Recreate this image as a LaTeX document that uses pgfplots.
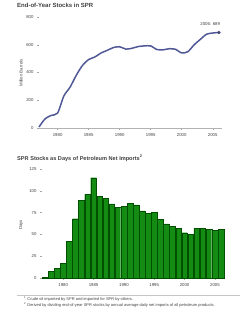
\documentclass[border=0pt]{standalone}
\usepackage{pgfplots}
\pgfplotsset{compat=1.18}
\usepackage{fontspec}
\setmainfont{Liberation Sans}
\definecolor{lineblue}{RGB}{80,88,150}
\definecolor{bargreen}{RGB}{20,140,20}
\definecolor{baredge}{RGB}{0,80,0}
\begin{document}
\begin{tikzpicture}
\useasboundingbox (0pt,0pt) rectangle (240pt,312pt);
\clip (0pt,0pt) rectangle (240pt,312pt);
\pgfplotsset{
  myaxis/.style={
    scale only axis,
    axis x line*=bottom, axis y line*=left,
    y axis line style={draw=none},
    x axis line style={gray!60, line width=0.6pt},
    tick align=outside,
    major tick length=2pt,
    tick style={gray!70, line width=0.4pt},
    tick label style={font=\fontsize{4.3}{5}\selectfont, text=black!75},
    /pgf/number format/assume math mode=true,
    /pgf/number format/1000 sep={},
    xtick={1980,1985,1990,1995,2000,2005},
    clip=false,
  }
}
% titles
\node[anchor=north west, inner sep=0, font=\bfseries\fontsize{6}{7}\selectfont, text=black!75] at (17pt,309pt) {End-of-Year Stocks in SPR};
\node[anchor=north west, inner sep=0, font=\bfseries\fontsize{5.6}{7}\selectfont, text=black!75] at (17pt,157pt) {SPR Stocks as Days of Petroleum Net Imports\textsuperscript{2}};
\node[rotate=90, inner sep=0, font=\fontsize{4.3}{5}\selectfont, text=black!75] at (21pt,239pt) {Million Barrels};
\node[rotate=90, inner sep=0, font=\fontsize{4.3}{5}\selectfont, text=black!75] at (21pt,87pt) {Days};

\begin{axis}[myaxis,
  at={(39pt,184pt)}, anchor=south west,
  width=183pt, height=111pt,
  xmin=1977, xmax=2006.5, ymin=0, ymax=800,
  ytick={0,200,400,600,800},
]
\addplot[lineblue, line width=1.5pt, smooth, tension=0.45] coordinates {
(1977,7.5) (1978,66.9) (1979,91.2) (1980,107.8) (1981,230.3) (1982,293.8)
(1983,379.1) (1984,450.5) (1985,493.3) (1986,511.6) (1987,540.6) (1988,559.5)
(1989,579.9) (1990,585.7) (1991,568.5) (1992,574.7) (1993,587.1) (1994,591.7)
(1995,591.6) (1996,565.8) (1997,563.4) (1998,571.4) (1999,567.2) (2000,540.7)
(2001,550.2) (2002,599.1) (2003,638.4) (2004,675.6) (2005,684.5) (2006,688.6)};
\addplot[only marks, mark=*, mark size=1.5pt, lineblue!80!black] coordinates {(2006,688.6)};
\node[anchor=south, inner sep=0, font=\fontsize{4.3}{5}\selectfont, text=black!75] at (axis cs:2004.6,735) {2006: 689};
\end{axis}

\begin{axis}[myaxis,
  at={(42pt,34pt)}, anchor=south west,
  width=182pt, height=109pt,
  xmin=1976.5, xmax=2006.5, ymin=0, ymax=125,
  ytick={0,25,50,75,100,125},
]
\addplot[ybar, bar width=5.7pt, fill=bargreen, draw=baredge, line width=0.3pt] coordinates {
(1977,1) (1978,8) (1979,11) (1980,17) (1981,42) (1982,68) (1983,89) (1984,96)
(1985,115) (1986,94) (1987,91) (1988,85) (1989,81) (1990,82) (1991,86) (1992,84)
(1993,77) (1994,74) (1995,75) (1996,67) (1997,62) (1998,59) (1999,57) (2000,52)
(2001,50) (2002,57) (2003,57) (2004,56) (2005,55) (2006,56)};
\end{axis}

\draw[gray!45, line width=0.6pt] (17pt,17pt) -- (240pt,17pt);
\node[anchor=west, inner sep=0, font=\fontsize{4}{4.5}\selectfont, text=black!75] at (24pt,13pt) {\textsuperscript{1} Crude oil imported by SPR and imported for SPR by others.};
\node[anchor=west, inner sep=0, font=\fontsize{4}{4.5}\selectfont, text=black!75] at (24pt,7pt) {\textsuperscript{2} Derived by dividing end-of-year SPR stocks by annual average daily net imports of all petroleum products.};
\end{tikzpicture}
\end{document}
